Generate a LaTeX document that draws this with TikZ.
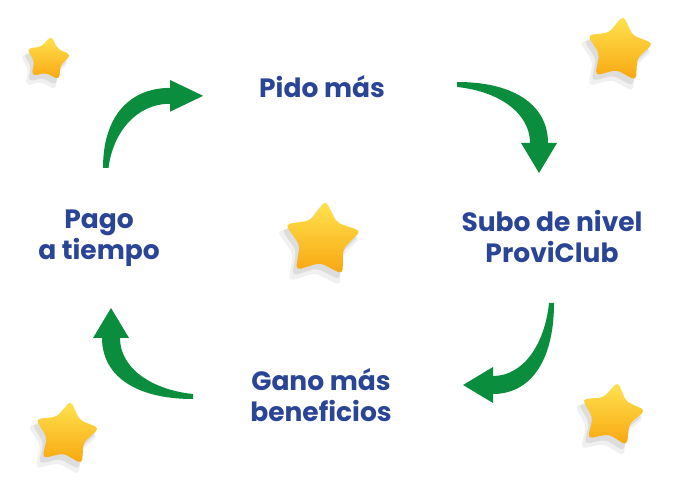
\documentclass[tikz,border=0pt]{standalone}
\usepackage{fontspec}
\setmainfont{Poppins}
\usetikzlibrary{shapes.geometric,shadows}

\definecolor{provigreen}{RGB}{10,142,62}
\definecolor{proviblue}{RGB}{43,69,150}
\definecolor{staryellow}{RGB}{255,228,80}
\definecolor{starmid}{RGB}{255,204,40}
\definecolor{starorange}{RGB}{248,166,16}

\tikzset{
    steptext/.style={text=proviblue, font=\bfseries\fontsize{26.5}{31}\selectfont, align=center, inner sep=0pt},
    goldstar/.style={star, star points=5, star point ratio=1.75, minimum size=#1, inner sep=0pt,
        rounded corners=5pt, top color=staryellow, middle color=starmid, bottom color=starorange,
        general shadow={fill=black, opacity=.06, shadow xshift=-4pt, shadow yshift=-7pt, shadow scale=1.1},
        general shadow={fill=black, opacity=.08, shadow xshift=-3pt, shadow yshift=-5pt, shadow scale=1.02}},
    bendarrow/.pic={
        \fill[provigreen] (0,0) .. controls (0,60) and (25,91) .. (61,91) -- (61,100) -- (91,82)
            -- (61,64) -- (61,73) .. controls (30,73) and (9,40) .. (5,0) -- cycle;
    }
}

\begin{document}
\begin{tikzpicture}[x=1pt,y=1pt]
    \fill[white] (0,0) rectangle (676,492);
    \useasboundingbox (0,0) rectangle (676,492);

    % Stars
    \node[goldstar=48pt, shape border rotate=-8] (star1) at (48,433) {};
    \node[goldstar=70pt, shape border rotate=-7] (star2) at (619,442) {};
    \node[goldstar=80pt, shape border rotate=-5] (star3) at (322,252) {};
    \node[goldstar=68pt, shape border rotate=-10] (star4) at (612,77) {};
    \node[goldstar=68pt, shape border rotate=-8] (star5) at (66,58) {};

    % Steps of the cycle
    \node[steptext, anchor=base] (pido) at (322,394) {Pido más};
    \node[steptext] (subo) at (552,256) {Subo de nivel\\ProviClub};
    \node[steptext] (gano) at (321,97) {Gano más\\beneficios};
    \node[steptext] (pago) at (99,254) {Pago\\a tiempo};

    % Arrows
    \coordinate (arr1) at (103,324);
    \coordinate (arr2) at (457,410);
    \coordinate (arr3) at (554,189);
    \coordinate (arr4) at (193,93);
    \pic[xscale=1.1, yscale=.88] at (arr1) {bendarrow};
    \pic[rotate=-90] at (arr2) {bendarrow};
    \pic[rotate=180] at (arr3) {bendarrow};
    \pic[rotate=90] at (arr4) {bendarrow};
\end{tikzpicture}
\end{document}
